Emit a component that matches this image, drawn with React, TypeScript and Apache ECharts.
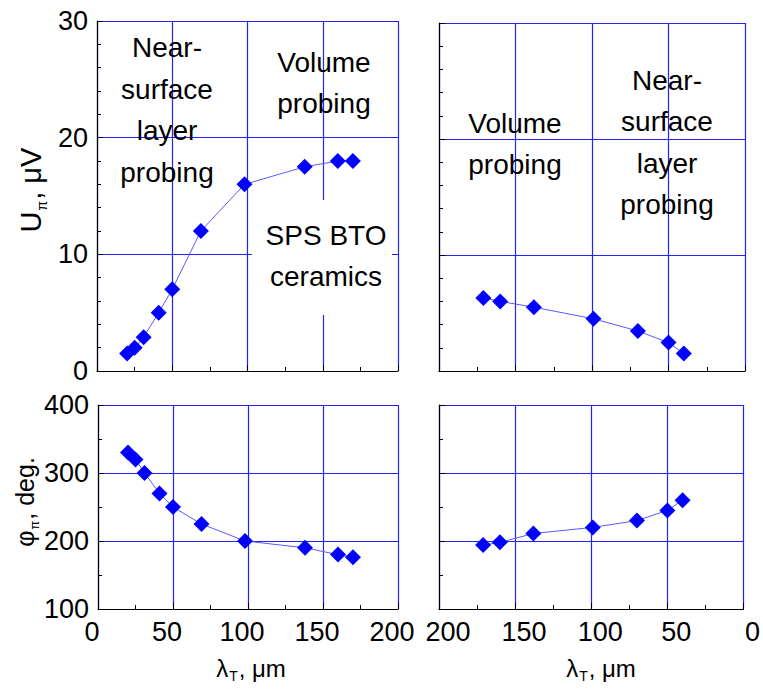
import React, { useEffect, useRef } from "react";
import * as echarts from "echarts";

// Thermal wavelength λT (µm) for each panel
const lambdaLeft = [20, 25, 31, 41, 50, 69, 98, 138, 160, 170];
const lambdaRight = [171, 160, 138, 99, 70, 50, 40];

// Signal amplitude Uπ (µV)
const uLeft = [1.5, 2.0, 2.9, 5.0, 7.0, 12.0, 16.0, 17.5, 18.0, 18.0];
const uRight = [6.3, 6.0, 5.5, 4.5, 3.45, 2.45, 1.5];

// Signal phase φπ (deg.)
const phiLeft = [330, 320, 300, 270, 250, 225, 200, 190, 180, 176];
const phiRight = [194, 198, 211, 220, 230, 245, 260];

const FONT = "'Liberation Sans', Arial, sans-serif";
const BLUE = "#0000ff";
const GRID_BLUE = "#2222ff";

const zip = (xs: number[], ys: number[]) => xs.map((x, i) => [x, ys[i]]);

function xAxisCfg(gridIndex: number, inverse: boolean, showLabels: boolean) {
  return {
    type: "value",
    gridIndex,
    min: 0,
    max: 200,
    interval: 50,
    inverse,
    axisLine: { show: true, onZero: false, lineStyle: { color: "#000", width: 1.2 } },
    axisTick: { show: true, inside: true, length: 6, lineStyle: { color: "#000" } },
    minorTick: { show: true, splitNumber: 2, length: 4, lineStyle: { color: "#000" } },
    splitLine: { show: true, lineStyle: { color: GRID_BLUE, width: 1.2 } },
    axisLabel: {
      show: showLabels,
      color: "#000",
      fontFamily: FONT,
      fontSize: 27,
      lineHeight: 22,
      margin: 12,
      padding: inverse ? [0, 0, 0, 18] : [0, 12, 0, 0],
    },
  };
}

function yAxisCfg(
  gridIndex: number,
  min: number,
  max: number,
  interval: number,
  minorSplit: number,
  showLabels: boolean
) {
  return {
    type: "value",
    gridIndex,
    min,
    max,
    interval,
    axisLine: { show: true, onZero: false, lineStyle: { color: "#000", width: 1.2 } },
    axisTick: { show: true, inside: true, length: 6, lineStyle: { color: "#000" } },
    minorTick: { show: true, splitNumber: minorSplit, length: 4, lineStyle: { color: "#000" } },
    splitLine: { show: true, lineStyle: { color: GRID_BLUE, width: 1.2 } },
    axisLabel: {
      show: showLabels,
      color: "#000",
      fontFamily: FONT,
      fontSize: 27,
      lineHeight: 22,
      margin: 9,
    },
  };
}

function seriesCfg(idx: number, data: number[][]) {
  return {
    type: "line",
    xAxisIndex: idx,
    yAxisIndex: idx,
    data,
    symbol: "diamond",
    symbolSize: 16,
    itemStyle: { color: BLUE },
    lineStyle: { color: "#5a5aff", width: 1 },
    z: 3,
  };
}

function label(text: string, x: number, y: number) {
  return {
    type: "text",
    x,
    y,
    z: 5,
    style: {
      text,
      fill: "#000",
      font: `28px ${FONT}`,
      align: "center",
      verticalAlign: "middle",
      lineHeight: 41.5,
    },
  };
}

function axisTitle(text: string, x: number, y: number, size: number, subSize: number, rotate: boolean) {
  return {
    type: "text",
    x,
    y,
    rotation: rotate ? Math.PI / 2 : 0,
    z: 5,
    style: {
      text,
      align: "center",
      verticalAlign: "middle",
      rich: {
        a: { fontSize: size, fontFamily: FONT, fill: "#000", lineHeight: size + 6, verticalAlign: "middle" },
        s: { fontSize: subSize, fontFamily: FONT, fill: "#000", lineHeight: size + 6, verticalAlign: "bottom", padding: [0, 1, 0, 1] },
      },
    },
  };
}

export default function App() {
  const ref = useRef<HTMLDivElement>(null);

  useEffect(() => {
    if (!ref.current) return;
    const chart = echarts.init(ref.current, null, { renderer: "svg" });
    chart.setOption({
      animation: false,
      backgroundColor: "#fff",
      grid: [
        { left: 97, top: 21, width: 301, height: 350 },
        { left: 439, top: 23, width: 306, height: 348 },
        { left: 98, top: 405, width: 300, height: 204 },
        { left: 439, top: 405, width: 306, height: 204 },
      ],
      xAxis: [
        xAxisCfg(0, false, false),
        xAxisCfg(1, true, false),
        xAxisCfg(2, false, true),
        xAxisCfg(3, true, true),
      ],
      yAxis: [
        yAxisCfg(0, 0, 30, 10, 5, true),
        yAxisCfg(1, 0, 30, 10, 5, false),
        yAxisCfg(2, 100, 400, 100, 2, true),
        yAxisCfg(3, 100, 400, 100, 2, false),
      ],
      series: [
        seriesCfg(0, zip(lambdaLeft, uLeft)),
        seriesCfg(1, zip(lambdaRight, uRight)),
        seriesCfg(2, zip(lambdaLeft, phiLeft)),
        seriesCfg(3, zip(lambdaRight, phiRight)),
      ],
      graphic: [
        {
          type: "rect",
          shape: { x: 252, y: 200, width: 140, height: 115 },
          style: { fill: "#fff" },
          z: 1,
        },
        label("Near-\nsurface\nlayer\nprobing", 167, 110),
        label("Volume\nprobing", 324, 83),
        label("SPS BTO\nceramics", 326, 256),
        label("Volume\nprobing", 515, 144),
        label("Near-\nsurface\nlayer\nprobing", 667, 142.5),
        axisTitle("{a|U}{s|π}{a|, μV}", 31, 190, 29, 14, true),
        axisTitle("{a|φ}{s|π}{a|, deg.}", 25, 502, 25, 13, true),
        axisTitle("{a|λ}{s|T}{a|, μm}", 251, 668, 24, 14, false),
        axisTitle("{a|λ}{s|T}{a|, μm}", 601, 668, 24, 14, false),
      ],
    });
    return () => chart.dispose();
  }, []);

  return (
    <div
      ref={ref}
      style={{ position: "absolute", left: 0, top: 0, width: 763, height: 691 }}
    />
  );
}
